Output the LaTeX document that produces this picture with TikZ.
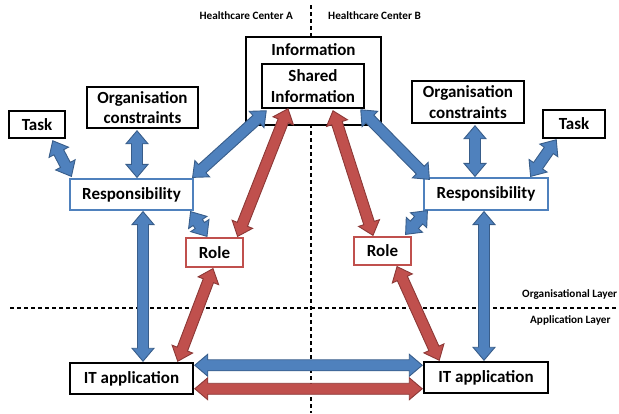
\documentclass[tikz,border=0pt]{standalone}
\usepackage{fontspec}
\setmainfont{Carlito}
\usetikzlibrary{calc}
\definecolor{bfill}{HTML}{4F81BD}
\definecolor{bdraw}{HTML}{385D8A}
\definecolor{rfill}{HTML}{C0504D}
\definecolor{rdraw}{HTML}{8C3836}
\newcommand\fatarr[3]{%
 \coordinate (FAs) at #2; \coordinate (FAe) at #3;
 \draw[#1] (FAs)
  -- ($(FAs)!13pt!(FAe)!11pt!90:(FAe)$)
  -- ($(FAs)!13pt!(FAe)!5.5pt!90:(FAe)$)
  -- ($(FAe)!13pt!(FAs)!5.5pt!-90:(FAs)$)
  -- ($(FAe)!13pt!(FAs)!11pt!-90:(FAs)$)
  -- (FAe)
  -- ($(FAe)!13pt!(FAs)!11pt!90:(FAs)$)
  -- ($(FAe)!13pt!(FAs)!5.5pt!90:(FAs)$)
  -- ($(FAs)!13pt!(FAe)!5.5pt!-90:(FAe)$)
  -- ($(FAs)!13pt!(FAe)!11pt!-90:(FAe)$)
  -- cycle;}
\tikzset{
 bbox/.style={draw=black, line width=1.5pt, fill=white, inner sep=0pt, align=center,
   font=\bfseries\fontsize{17}{20.5}\selectfont},
 respbox/.style={bbox, draw=bfill, line width=1.2pt},
 rolebox/.style={bbox, draw=rfill, line width=1.2pt},
 smalltxt/.style={font=\bfseries\fontsize{11.2}{13}\selectfont, inner sep=0pt},
 divider/.style={line width=1.3pt, dash pattern=on 4pt off 3pt},
 bluearr/.style={fill=bfill, draw=bdraw, line width=0.9pt, line join=miter},
 redarr/.style={fill=rfill, draw=rdraw, line width=0.9pt, line join=miter}
}
\begin{document}
\begin{tikzpicture}[x=1pt,y=-1pt]
\useasboundingbox (0,0) rectangle (619,413);
% dividers
\coordinate (vtop) at (311,5);
\coordinate (vbot) at (311,413);
\coordinate (hleft) at (10,308);
\coordinate (hright) at (619,308);
\draw[divider] (vtop) -- (vbot);
\draw[divider] (hleft) -- (hright);
% labels
\node[smalltxt, anchor=east] (hca) at (293,16) {Healthcare Center A};
\node[smalltxt, anchor=west] (hcb) at (328,16) {Healthcare Center B};
\node[smalltxt, anchor=west] (orgl) at (522,295) {Organisational Layer};
\node[smalltxt, anchor=west] (appl) at (530,320) {Application Layer};
% boxes
\node[bbox, minimum width=135, minimum height=88] (info) at (313.5,81) {};
\node[font=\bfseries\fontsize{17}{20.5}\selectfont, inner sep=0pt] (infot) at (313.5,50) {Information};
\node[bbox, minimum width=102, minimum height=44] (shared) at (313,86) {Shared\\Information};
\node[bbox, minimum width=56, minimum height=27] (taskL) at (37,124.5) {Task};
\node[bbox, minimum width=111, minimum height=41] (orgL) at (142.5,107.5) {Organisation\\constraints};
\node[respbox, minimum width=123, minimum height=31] (respL) at (131.5,194.5) {Responsibility};
\node[rolebox, minimum width=57, minimum height=29] (roleL) at (214.5,252.5) {Role};
\node[bbox, minimum width=123, minimum height=31] (itL) at (131.5,378.5) {IT application};
\node[bbox, minimum width=112, minimum height=42] (orgR) at (468,102) {Organisation\\constraints};
\node[bbox, minimum width=62, minimum height=28] (taskR) at (574,124) {Task};
\node[respbox, minimum width=124, minimum height=32] (respR) at (486,194) {Responsibility};
\node[rolebox, minimum width=57, minimum height=28] (roleR) at (382.5,251) {Role};
\node[bbox, minimum width=124, minimum height=31] (itR) at (486,377.5) {IT application};
% arrows left
\fatarr{bluearr}{($(taskL.south east)+(-13,2)$)}{($(respL.north west)+(2,-2)$)}
\fatarr{bluearr}{($(orgL.south)+(-5.5,2)$)}{($(respL.north)+(5.5,-1)$)}
\fatarr{bluearr}{($(respL.north east)+(-1,-1)$)}{($(shared.south west)+(5,2)$)}
\fatarr{redarr}{($(roleL.north east)+(-6,-1)$)}{($(shared.south)+(-25,0)$)}
\fatarr{bluearr}{($(respL.south east)+(-3,1)$)}{($(roleL.north)+(-7.5,-1)$)}
\fatarr{bluearr}{($(respL.south)+(11.5,1)$)}{($(itL.north)+(11.5,-1)$)}
\fatarr{redarr}{($(roleL.south)+(-1.5,1)$)}{($(itL.north east)+(-16,-1)$)}
% bottom links
\fatarr{bluearr}{($(itL.north east)+(1,3)$)}{($(itR.north west)+(-1,4)$)}
\fatarr{redarr}{($(itL.south east)+(1,-6)$)}{($(itR.south west)+(-1,-5)$)}
% arrows right
\fatarr{bluearr}{($(shared.south east)+(-4,1)$)}{($(respR.north west)+(6,2)$)}
\fatarr{bluearr}{($(orgR.south)+(7,2)$)}{($(respR.north)+(-11,-1)$)}
\fatarr{bluearr}{($(taskR.south west)+(14,1)$)}{($(respR.north east)+(-18,-1)$)}
\fatarr{redarr}{($(shared.south)+(20,2)$)}{($(roleR.north)+(-9.5,-1)$)}
\fatarr{bluearr}{($(roleR.north east)+(-6,-2)$)}{($(respR.south west)+(4,0)$)}
\fatarr{redarr}{($(roleR.south)+(14.5,1)$)}{($(itR.north west)+(16,-1)$)}
\fatarr{bluearr}{($(respR.south)+(-2,1)$)}{($(itR.north)+(-2,-1)$)}
\end{tikzpicture}
\end{document}
